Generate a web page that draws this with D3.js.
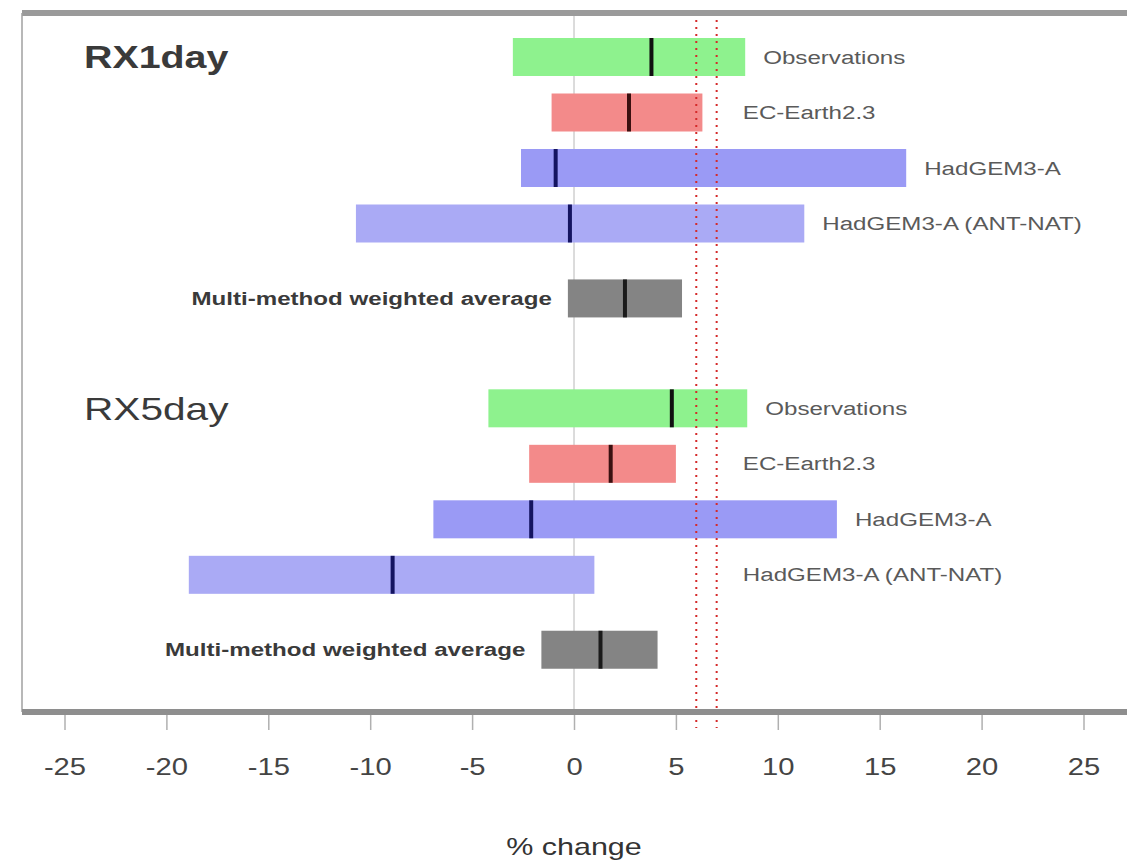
<!DOCTYPE html>
<html>
<head>
<meta charset="utf-8">
<script src="https://cdn.jsdelivr.net/npm/d3@7"></script>
<style>
  html, body { margin: 0; padding: 0; background: #fff; }
  svg { display: block; font-family: "Liberation Sans", Arial, sans-serif; }
</style>
</head>
<body>
<svg id="chart" width="1127" height="866"></svg>
<script>
// Index names and the sources compared in each panel
const indices = ["RX1day", "RX5day"];
const sources = ["Observations", "EC-Earth2.3", "HadGEM3-A", "HadGEM3-A (ANT-NAT)", "Multi-method weighted average"];

// Percent change ranges (low, best estimate, high) per source, for each index
const rx1Low  = [-3.0, -1.1, -2.6, -10.7, -0.3];
const rx1Best = [ 3.8,  2.7, -0.9,  -0.2,  2.5];
const rx1High = [ 8.4,  6.3, 16.3,  11.3,  5.3];

const rx5Low  = [-4.2, -2.2, -6.9, -18.9, -1.6];
const rx5Best = [ 4.8,  1.8, -2.1,  -8.9,  1.3];
const rx5High = [ 8.5,  5.0, 12.9,   1.0,  4.1];

// Reference lines (dotted red)
const refLines = [6, 7];

// Axis ticks
const tickValues = [-25, -20, -15, -10, -5, 0, 5, 10, 15, 20, 25];
const xLabel = "% change";

const fills   = ["#8ef28e", "#f38a8a", "#9a9af5", "#aaaaf5", "#848484"];
const medians = ["#111111", "#3a1010", "#141460", "#141460", "#1a1a1a"];

// all text is set in a wide (horizontally stretched) face
const stretch = 1.27;

const svg = d3.select("#chart");

const x = d3.scaleLinear().domain([-25, 25]).range([64.5, 1083.5]);

// Vertical slot layout: four model rows, a gap, then the average row
const rowStep = 55.5;
const slotOf = (g, i) => g * 6.33 + i + (i === 4 ? 0.35 : 0);
const y = d3.scaleLinear().domain([0, 1]).range([57, 57 + rowStep]);
const barH = 38;

const frameTop = 13, axisY = 712, frameLeft = 22, frameRight = 1127;

function wideText(sel, tx, ty) {
  return sel.attr("x", 0).attr("y", 0)
    .attr("transform", d => `translate(${typeof tx === "function" ? tx(d) : tx},${typeof ty === "function" ? ty(d) : ty}) scale(${stretch},1)`);
}

// zero line
svg.append("line")
  .attr("x1", x(0)).attr("x2", x(0))
  .attr("y1", frameTop).attr("y2", axisY)
  .attr("stroke", "#b8b8b8").attr("stroke-width", 1);

const groups = [
  { name: indices[0], low: rx1Low, best: rx1Best, high: rx1High },
  { name: indices[1], low: rx5Low, best: rx5Best, high: rx5High }
];

groups.forEach((grp, g) => {
  const rows = sources.map((s, i) => ({
    source: s, i,
    low: grp.low[i], best: grp.best[i], high: grp.high[i],
    cy: y(slotOf(g, i))
  }));

  const gg = svg.append("g");

  gg.selectAll("rect.bar").data(rows).join("rect")
    .attr("class", "bar")
    .attr("x", d => x(d.low))
    .attr("width", d => x(d.high) - x(d.low))
    .attr("y", d => d.cy - barH / 2)
    .attr("height", barH)
    .attr("fill", d => fills[d.i]);

  gg.selectAll("line.best").data(rows).join("line")
    .attr("class", "best")
    .attr("x1", d => x(d.best)).attr("x2", d => x(d.best))
    .attr("y1", d => d.cy - barH / 2).attr("y2", d => d.cy + barH / 2)
    .attr("stroke", d => medians[d.i]).attr("stroke-width", 4);

  // model labels to the right, clear of the reference lines
  wideText(gg.selectAll("text.lab").data(rows.filter(d => d.i < 4)).join("text")
    .attr("class", "lab"),
    d => x(Math.max(d.high, 7.4)) + 18, d => d.cy)
    .attr("dy", "0.35em")
    .attr("font-size", 19)
    .attr("fill", "#5a5a5a")
    .text(d => d.source);

  // average label to the left of its bar
  wideText(gg.selectAll("text.avg").data(rows.filter(d => d.i === 4)).join("text")
    .attr("class", "avg"),
    d => x(d.low) - 16, d => d.cy)
    .attr("dy", "0.35em")
    .attr("text-anchor", "end")
    .attr("font-size", 19)
    .attr("font-weight", "bold")
    .attr("fill", "#3a3a3a")
    .text(d => d.source);

  wideText(gg.append("text"), 84, y(slotOf(g, 0)))
    .attr("dy", "0.35em")
    .attr("font-size", g === 0 ? 31 : 32)
    .attr("font-weight", g === 0 ? "bold" : "normal")
    .attr("fill", "#3a3a3a")
    .text(grp.name);
});

// dotted reference lines
svg.selectAll("line.ref").data(refLines).join("line")
  .attr("class", "ref")
  .attr("x1", d => x(d)).attr("x2", d => x(d))
  .attr("y1", frameTop).attr("y2", axisY + 16)
  .attr("stroke", "#d42a2a").attr("stroke-width", 2)
  .attr("stroke-dasharray", "2,5");

// frame
svg.append("line")
  .attr("x1", frameLeft).attr("x2", frameRight)
  .attr("y1", frameTop).attr("y2", frameTop)
  .attr("stroke", "#9a9a9a").attr("stroke-width", 6);
svg.append("line")
  .attr("x1", frameLeft).attr("x2", frameLeft)
  .attr("y1", frameTop).attr("y2", axisY)
  .attr("stroke", "#a0a0a0").attr("stroke-width", 1.5);

// x axis
const axis = d3.axisBottom(x).tickValues(tickValues).tickSize(18).tickPadding(29).tickFormat(d => String(d));
const ax = svg.append("g").attr("transform", `translate(0,${axisY})`).call(axis);
ax.select(".domain").remove();
ax.selectAll(".tick line").attr("stroke", "#b0b0b0").attr("stroke-width", 1.5);
ax.selectAll(".tick text")
  .attr("transform", `translate(0,${18 + 29}) scale(${stretch},1)`)
  .attr("y", 0)
  .attr("font-size", 23).attr("fill", "#444")
  .attr("font-family", "\"Liberation Sans\", Arial, sans-serif");
svg.append("line")
  .attr("x1", frameLeft).attr("x2", frameRight)
  .attr("y1", axisY).attr("y2", axisY)
  .attr("stroke", "#8e8e8e").attr("stroke-width", 6);

wideText(svg.append("text"), x(0), 855)
  .attr("text-anchor", "middle")
  .attr("font-size", 24)
  .attr("fill", "#333")
  .text(xLabel);
</script>
</body>
</html>
